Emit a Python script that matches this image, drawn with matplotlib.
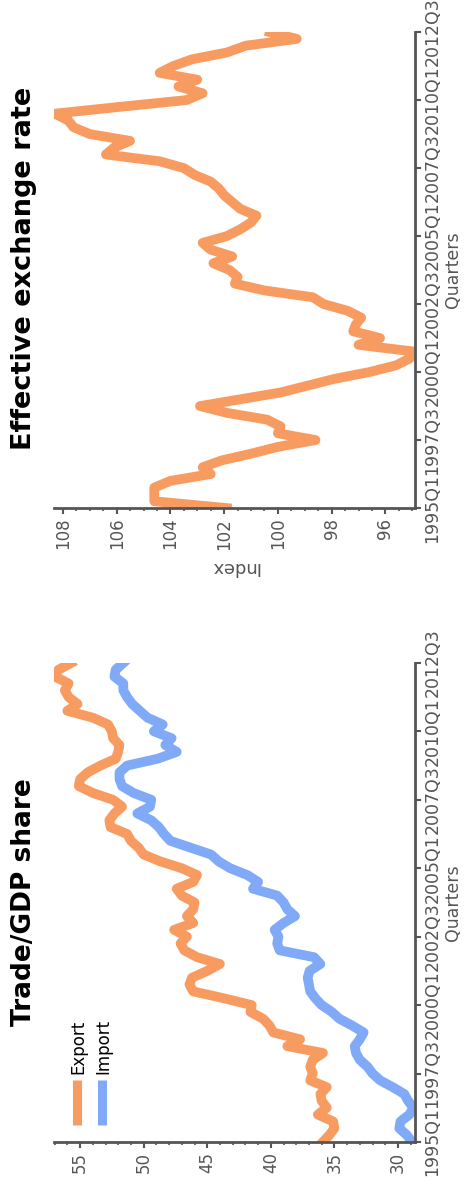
import matplotlib
matplotlib.use("Agg")
import matplotlib.pyplot as plt
from matplotlib.ticker import MultipleLocator
import numpy as np

# quarterly series, 1995Q1 .. 2012Q3
quarter_labels = ['1995Q1', '1997Q3', '2000Q1', '2002Q3', '2005Q1', '2007Q3', '2010Q1', '2012Q3']

exchange_rate = [101.9, 104.6, 104.6, 104.6, 104.0, 102.5, 102.8, 102.1, 101.0, 100.0,
                 98.6, 100.0, 99.9, 100.4, 101.9, 102.9, 101.4, 99.9, 98.9, 97.9,
                 96.6, 95.6, 95.1, 94.9, 97.0, 96.2, 97.2, 97.1, 96.9, 97.4,
                 98.3, 98.7, 100.5, 101.6, 101.5, 101.8, 102.4, 101.7, 102.5, 102.8,
                 101.9, 101.4, 101.0, 100.8, 101.4, 101.7, 102.0, 102.2, 102.5, 103.1,
                 103.5, 104.4, 106.4, 106.1, 105.5, 107.0, 107.6, 107.8, 108.3, 105.9,
                 103.4, 102.8, 103.7, 103.0, 104.4, 103.9, 103.2, 101.9, 101.2, 99.3,
                 100.3]

export_share = [35.9, 35.4, 35.0, 35.1, 36.3, 35.6, 36.0, 36.1, 35.6, 36.9,
                36.7, 36.9, 36.7, 35.9, 38.7, 37.7, 39.8, 40.1, 40.6, 41.6,
                41.5, 43.7, 46.1, 46.4, 46.2, 45.0, 44.0, 45.8, 46.8, 47.1,
                46.6, 47.6, 46.1, 46.6, 46.1, 46.0, 47.0, 47.4, 46.1, 45.8,
                47.0, 48.7, 50.0, 50.4, 51.0, 51.3, 52.6, 52.7, 52.3, 51.7,
                52.4, 54.0, 55.1, 55.0, 54.4, 53.4, 52.2, 52.0, 51.9, 52.4,
                52.5, 52.8, 54.0, 56.0, 55.2, 55.9, 56.2, 55.9, 57.0, 56.7,
                55.7]

import_share = [28.9, 29.3, 29.9, 29.8, 29.1, 28.8, 29.2, 29.5, 30.4, 31.4,
                32.0, 32.4, 33.0, 33.3, 33.4, 33.0, 32.7, 33.6, 34.6, 35.2,
                36.0, 36.5, 36.9, 37.0, 37.1, 36.95, 36.1, 36.6, 39.3, 39.5,
                39.4, 39.7, 39.0, 38.1, 38.7, 39.0, 39.5, 41.4, 41.0, 41.85,
                43.2, 44.1, 44.7, 46.3, 47.9, 48.4, 48.8, 49.4, 50.5, 49.5,
                49.4, 50.8, 51.7, 51.9, 51.9, 51.3, 48.9, 47.4, 48.3, 47.8,
                49.2, 48.5, 49.7, 50.3, 50.9, 51.3, 51.6, 51.6, 52.3, 52.2,
                51.6]

ORANGE = '#f89b60'
BLUE = '#80aaf8'
GREY = '#555555'

t = np.arange(len(exchange_rate))

fig = plt.figure(figsize=(4.75, 11.84), dpi=100)
ax_top = fig.add_axes([0.1137, 0.5709, 0.76, 0.402])
ax_bot = fig.add_axes([0.1137, 0.0355, 0.76, 0.4046])


def style(ax, minor):
    for s in ['top', 'left']:
        ax.spines[s].set_visible(False)
    for s in ['bottom', 'right']:
        ax.spines[s].set_color(GREY)
        ax.spines[s].set_linewidth(2)
    ax.yaxis.tick_right()
    ax.yaxis.set_label_position('right')
    ax.set_ylim(0, len(t) - 1)
    ax.set_yticks(np.arange(0, len(t), 10))
    ax.set_yticklabels(quarter_labels)
    ax.xaxis.set_minor_locator(MultipleLocator(minor))
    ax.tick_params(axis='x', which='major', labelrotation=90, labelsize=12,
                   colors=GREY, length=4, width=1.5, pad=3)
    ax.tick_params(axis='x', which='minor', colors=GREY, length=2, width=1.2)
    ax.tick_params(axis='y', labelrotation=90, labelsize=12.5, colors=GREY,
                   length=4, width=1.5, pad=2)
    for lab in ax.get_yticklabels():
        lab.set_va('center')
    ax.set_ylabel('Quarters', rotation=90, fontsize=12.5, color=GREY, labelpad=2)


# effective exchange rate panel
ax_top.plot(exchange_rate, t, color=ORANGE, lw=7, solid_joinstyle='round')
ax_top.set_xlim(max(exchange_rate) + 0.03, min(exchange_rate))
ax_top.set_xticks([108, 106, 104, 102, 100, 98, 96])
style(ax_top, 0.5)
ax_top.set_xlabel('Index', rotation=180, fontsize=13, color=GREY, labelpad=6)

# trade / GDP panel
ax_bot.plot(export_share, t, color=ORANGE, lw=7, solid_joinstyle='round')
ax_bot.plot(import_share, t, color=BLUE, lw=7, solid_joinstyle='round')
ax_bot.set_xlim(57.05, 28.66)
ax_bot.set_xticks([55, 50, 45, 40, 35, 30])
style(ax_bot, 1)

# vertical legend
for xpos, col, name in [(0.064, ORANGE, 'Export'), (0.134, BLUE, 'Import')]:
    ax_bot.plot([xpos, xpos], [0.0355, 0.129], color=col, lw=6.5,
                transform=ax_bot.transAxes, solid_capstyle='butt')
    ax_bot.text(xpos + 0.004, 0.141, name, rotation=90, ha='center', va='bottom',
                fontsize=12, transform=ax_bot.transAxes)

fig.text(24 / 475, 1 - 268 / 1184, 'Effective exchange rate', rotation=90,
         ha='center', va='center', fontsize=19.5, fontweight='bold')
fig.text(24 / 475, 1 - 902 / 1184, 'Trade/GDP share', rotation=90,
         ha='center', va='center', fontsize=19, fontweight='bold')

fig.savefig('out.png', dpi=100)
